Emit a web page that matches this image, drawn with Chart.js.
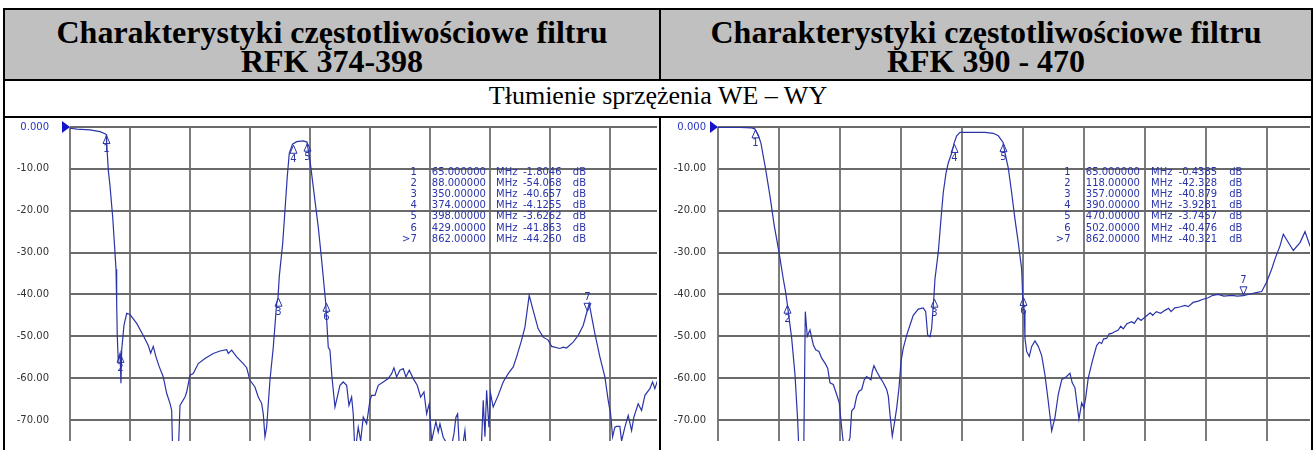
<!DOCTYPE html>
<html>
<head>
<meta charset="utf-8">
<title>Charakterystyki częstotliwościowe filtrów RFK</title>
<script src="https://cdn.jsdelivr.net/npm/chart.js"></script>
<style>
  body { margin: 0; background: #fff; width: 1315px; height: 450px; overflow: hidden; position: relative; font-family: "Liberation Serif", "Times New Roman", serif; }
  .bl { position: absolute; background: #000; }
  .head { position: absolute; top: 10px; height: 69px; background: #c0c0c0; text-align: center; font-weight: bold; font-size: 32px; line-height: 29px; padding-top: 8px; box-sizing: border-box; }
  .sub { position: absolute; left: 5px; width: 1306px; top: 81px; height: 35px; text-align: center; font-size: 26px; line-height: 30px; }
  .cell { position: absolute; top: 118px; height: 332px; overflow: hidden; }
  .cell canvas { position: absolute; left: 0; top: 0; }
</style>
</head>
<body>
  <div class="head" style="left:5px; width:654px">Charakterystyki częstotliwościowe filtru<br>RFK 374-398</div>
  <div class="head" style="left:661px; width:650px">Charakterystyki częstotliwościowe filtru<br>RFK 390 - 470</div>
  <div class="sub">Tłumienie sprzężenia WE – WY</div>

  <div class="bl" style="left:3px; top:8px; width:1310px; height:2px"></div>
  <div class="bl" style="left:3px; top:79px; width:1310px; height:2px"></div>
  <div class="bl" style="left:3px; top:116px; width:1310px; height:2px"></div>
  <div class="bl" style="left:3px; top:8px; width:2px; height:442px"></div>
  <div class="bl" style="left:659px; top:8px; width:2px; height:73px"></div>
  <div class="bl" style="left:659px; top:116px; width:2px; height:334px"></div>
  <div class="bl" style="left:1311px; top:8px; width:2px; height:442px"></div>

  <div class="cell" style="left:5px; width:652px"><canvas id="leftChart" width="670" height="332"></canvas></div>
  <div class="cell" style="left:661px; width:649px"><canvas id="rightChart" width="672" height="332"></canvas></div>

<script>
// frequency sweep 5 - 1000 MHz, 10 divisions
const freqTicks = [5, 104.5, 204, 303.5, 403, 502.5, 602, 701.5, 801, 900.5, 1000];
const dbTicks = [0, -10, -20, -30, -40, -50, -60, -70];

// RFK 374-398: [MHz, dB]
const leftTrace = [
  [5, -0.3], [16.6, -0.5], [38.2, -0.7], [54.7, -1.1], [63, -1.6], [65, -1.8], [65.8, -3.8], [68.5, -10.3],
  [71.3, -14], [75.8, -21.5], [79.6, -30], [81.3, -34], [82.4, -42], [83.4, -50], [85, -55.7], [88, -54.1],
  [89.5, -61.2], [90.7, -53.3], [94.5, -47.4], [99, -44.5], [104.5, -44.8], [115.6, -46.9], [126.5, -49.8],
  [134.8, -52.2], [138.8, -54], [143.1, -52.4], [147.6, -54.9], [153.1, -57.3], [159.7, -59.7], [165.3, -63.6],
  [170.8, -66], [173.6, -67.7], [175.3, -78], [184.6, -78], [187.4, -66.5], [195.7, -64.5], [198.5, -63.3],
  [204, -59.3], [209.4, -58.9], [217.7, -56.5], [228.8, -55.3], [242.6, -54.1], [253.7, -53.5], [264.8, -53.2],
  [267.5, -54.1], [273.1, -53.3], [281.4, -54.9], [292.3, -56.5], [298, -57.5], [303.4, -60.5], [311.7, -62.1],
  [317.2, -64.5], [322.8, -66], [325.5, -68.5], [328.3, -74], [331.1, -71.7], [336.6, -60.5], [342.1, -52.6],
  [347.7, -42.2], [350, -40.7], [352, -35.8], [357.7, -27.8], [361.5, -19.9], [365.3, -11.9], [368.6, -6.3],
  [374, -4.1], [380.9, -3.5], [391.8, -3.3], [398, -3.6], [402.9, -7.9], [408.4, -14.3], [416.7, -23.9],
  [422.3, -31.8], [429, -41.9], [433.3, -52.6], [436.1, -53.3], [439.4, -59.7], [444.4, -66.9], [452.7, -61.7],
  [458.1, -60.9], [463.8, -61.7], [467.6, -66.5], [472, -64.5], [474.7, -68.5], [477.5, -78], [483, -71.7],
  [487, -75], [491.3, -69.3], [496.9, -70.9], [502.4, -65.3], [505.2, -64.1], [510.7, -64.1], [516.2, -61.7],
  [524.5, -60.9], [532.7, -60.1], [538.4, -58.9], [542.2, -57.5], [546.7, -59.7], [552.1, -58.1], [557.6, -57.7],
  [562.1, -59.7], [567.6, -58.1], [574.2, -60.1], [580.8, -61.7], [586.5, -64.5], [592, -63.3], [596.4, -68.5],
  [600.7, -66.1], [604.7, -75], [608.5, -72.5], [611.8, -70.4], [615.6, -72.9], [618.5, -70.9], [623.9, -74.1],
  [629.6, -75.5], [637.9, -76], [641.7, -73.3], [645, -69.3], [647.8, -68.5], [650.5, -76], [654.4, -78],
  [659.9, -72.5], [662.7, -78], [668.2, -79], [679.3, -79], [687.6, -75], [690.3, -65.3], [693.1, -74],
  [695.9, -62.9], [699.7, -71.7], [702.5, -63.7], [706.8, -66.9], [715.1, -64.1], [723.4, -60.9], [731.7, -58.9],
  [740, -57.3], [745.6, -54.9], [753.9, -50.9], [759.4, -47.8], [766.5, -40.2], [773.1, -43.8], [781.4, -48.2],
  [789.7, -50.2], [798, -50.9], [803.6, -52.4], [817.4, -52.9], [822.9, -52.6], [828.5, -52.8], [839.4, -51.4],
  [847.7, -49.8], [856, -47.4], [862, -44.3], [866, -42.2], [875.5, -49.4], [883.7, -54.9], [892, -59.7],
  [897.5, -65.3], [901.5, -68.5], [904.8, -74], [908.6, -71.7], [911.4, -71.5], [916.9, -71.5], [919.7, -75],
  [925.2, -71.7], [930.7, -68.9], [936.3, -72.5], [940.1, -69.3], [947.2, -66.1], [952.9, -67.7], [958.4, -64.1],
  [966.6, -62.5], [971.1, -60.9], [974.9, -62.5], [980.4, -60.1], [990, -59]
];

// RFK 390 - 470: [MHz, dB]
const rightTrace = [
  [5, -0.1], [40.9, -0.1], [60, -0.2], [65, -0.44], [70.7, -1.9], [75.1, -3.9], [78.9, -7], [82.8, -10.2],
  [89.8, -16.5], [96.8, -23.6], [104.5, -29.9], [111.5, -36.3], [115.4, -39.5], [118, -42.3], [125.2, -50.5],
  [130.6, -59.2], [135, -70.2], [137.1, -78], [144.8, -78], [147.4, -44.1], [150.6, -50], [155, -48.5],
  [160.4, -52], [164.3, -53.2], [169.7, -53.6], [174.1, -55.2], [179.5, -56.4], [183.9, -57.6], [187.7, -61.1],
  [193, -61.5], [198.6, -63.9], [202.8, -65.9], [205.6, -70.2], [208.4, -74.2], [212.1, -78], [220.3, -74.2],
  [223.1, -67.8], [227.3, -67.1], [231.2, -64.3], [235, -63.1], [239.4, -62.7], [243.6, -60.4], [247.5, -59.6],
  [251.3, -60], [254.5, -60.4], [256.7, -58.4], [259.4, -57], [263.8, -58.4], [269.2, -59.8], [274.6, -61.1],
  [280.1, -62.7], [282.8, -64.3], [285.5, -68.6], [289.3, -73.8], [292.5, -71], [296.5, -67.1], [300.2, -62.3],
  [303.5, -56], [307.2, -52.8], [312.8, -49.7], [318.2, -47.3], [323.5, -45], [331.7, -43.5], [339.8, -43.2],
  [343.8, -44.1], [347, -49.7], [350.8, -50.1], [353.5, -48.1], [357, -40.9], [358.9, -36.3], [364.3, -29.9],
  [368.7, -22], [372.4, -15.7], [376.9, -11], [380.6, -8.6], [386.2, -6.2], [390, -3.9], [394.3, -2.1],
  [399.7, -1.3], [407.9, -1.3], [440.5, -1.3], [454, -1.5], [462.2, -2.1], [470, -3.7], [473.1, -6.2],
  [478.5, -9.8], [484, -15.7], [489.4, -22], [494.8, -27.6], [500.3, -33.9], [502, -40.5], [504.6, -44.1],
  [505.7, -50.5], [508.5, -53.6], [512.7, -54.8], [516.7, -52.4], [522, -51.1], [527.4, -52.4], [533, -54.6],
  [538.3, -59.2], [543.7, -65.5], [549.3, -72.6], [554.6, -69.4], [560, -63.9], [565.6, -60.4], [573.7, -59.6],
  [579.1, -58.8], [582.8, -61.1], [587.3, -62.3], [590, -65.5], [593.8, -69.8], [598.2, -65.9], [601.9, -67.1],
  [604.7, -64.7], [608.9, -60], [615.5, -56], [622.6, -52.2], [627, -51.4], [630.8, -51.7], [634, -50.6],
  [638.9, -50.5], [643, -49.4], [647.1, -49.3], [652, -48.9], [657.9, -48.5], [662, -47.6], [666, -48.2],
  [672, -47], [679.7, -46.5], [684, -46.9], [690, -45.6], [695, -46.2], [704.2, -45.1], [710, -44.4],
  [714, -45], [720, -44.1], [727, -44.5], [734, -43.8], [740, -43.3], [744, -44.1], [750, -43.2], [758, -43],
  [766.7, -42.6], [772, -42.9], [780, -41.9], [788.4, -41.6], [795, -41.2], [804.7, -40.8], [812, -40.2],
  [821, -40], [830, -40.4], [842.9, -40.2], [852, -40.4], [862, -40.3], [881, -39.6], [891.9, -39.3],
  [900, -37], [908.2, -33.9], [913.6, -31.5], [921.7, -28.4], [927.1, -25.6], [935.3, -27.6], [943.4, -29.5],
  [954.4, -27.6], [962.5, -25], [970.7, -28.4], [980, -31]
];

const leftMarkerFreq = [65, 88, 350, 374, 398, 429, 862];
const leftMarkerDb = [-1.8046, -54.068, -40.657, -4.1255, -3.6262, -41.863, -44.260];
const rightMarkerFreq = [65, 118, 357, 390, 470, 502, 862];
const rightMarkerDb = [-0.4385, -42.328, -40.879, -3.9281, -3.7457, -40.476, -40.321];

const traceColor = '#2a34a8';

const markerPlugin = {
  id: 'markers',
  afterDatasetsDraw(chart, args, o) {
    const { ctx, chartArea: a, scales: { x, y } } = chart;
    ctx.save();
    // reference level arrow
    const y0 = y.getPixelForValue(0);
    ctx.fillStyle = '#1414c8';
    ctx.beginPath();
    ctx.moveTo(a.left - 8, y0 - 6);
    ctx.lineTo(a.left, y0);
    ctx.lineTo(a.left - 8, y0 + 6);
    ctx.closePath();
    ctx.fill();

    ctx.strokeStyle = traceColor;
    ctx.fillStyle = traceColor;
    ctx.lineWidth = 1;
    ctx.font = '10px "DejaVu Sans"';
    ctx.textAlign = 'center';
    const n = o.freq.length;
    o.freq.forEach((f, i) => {
      const px = Math.round(x.getPixelForValue(f)) + 0.5;
      const py = y.getPixelForValue(o.db[i]);
      const active = i === n - 1;
      const d = active ? -1 : 1;
      const tip = py + d;
      const base = py + d * 9;
      ctx.beginPath();
      ctx.moveTo(px, tip);
      ctx.lineTo(px - 3.5, base);
      ctx.lineTo(px + 3.5, base);
      ctx.closePath();
      ctx.stroke();
      ctx.textBaseline = active ? 'bottom' : 'top';
      ctx.fillText(String(i + 1), px, base + d);
    });

    // marker readout table
    const div = x.getPixelForValue(freqTicks[1]) - x.getPixelForValue(freqTicks[0]);
    ctx.textBaseline = 'middle';
    o.freq.forEach((f, i) => {
      const ty = a.top + 45 + i * 11.2;
      const v = o.db[i];
      ctx.textAlign = 'right';
      ctx.fillText((i === n - 1 ? '>' : '') + (i + 1), a.left + 5.78 * div, ty);
      ctx.textAlign = 'left';
      ctx.fillText(f.toPrecision(8), a.left + 6.03 * div, ty);
      ctx.fillText('MHz', a.left + 7.1 * div, ty);
      ctx.fillText(Math.abs(v) < 10 ? v.toFixed(4) : v.toFixed(3), a.left + 7.55 * div, ty);
      ctx.fillText('dB', a.left + 8.38 * div, ty);
    });
    ctx.restore();
  }
};

function makeChart(id, trace, mFreq, mDb, axisWidth, labelGap) {
  return new Chart(document.getElementById(id), {
    type: 'line',
    data: {
      datasets: [{
        data: trace.map(p => ({ x: p[0], y: p[1] })),
        borderColor: traceColor,
        borderWidth: 1.2,
        pointRadius: 0,
        tension: 0
      }]
    },
    options: {
      responsive: false,
      animation: false,
      devicePixelRatio: 1,
      layout: { padding: { left: 0, top: 9, right: 5, bottom: 9 } },
      plugins: {
        legend: { display: false },
        tooltip: { enabled: false },
        markers: { freq: mFreq, db: mDb }
      },
      scales: {
        x: {
          type: 'linear',
          min: 5,
          max: 1000,
          afterBuildTicks: s => { s.ticks = freqTicks.map(v => ({ value: v })); },
          afterFit: s => { s.height = 0; s.paddingLeft = 0; s.paddingRight = 0; },
          ticks: { display: false },
          grid: { color: '#7c7c7c', lineWidth: 2, drawTicks: false },
          border: { display: false }
        },
        y: {
          min: -75,
          max: 0,
          afterBuildTicks: s => { s.ticks = dbTicks.map(v => ({ value: v })); },
          afterFit: s => { s.width = axisWidth; s.paddingTop = 0; s.paddingBottom = 0; },
          ticks: {
            padding: labelGap,
            font: { family: 'DejaVu Sans', size: 10 },
            color: c => (c.tick && c.tick.value === 0) ? '#2a34c0' : '#333',
            callback: v => v === 0 ? '0.000' : v.toFixed(2)
          },
          grid: { color: '#6a6a6a', lineWidth: 2, drawTicks: false },
          border: { display: false }
        }
      }
    },
    plugins: [markerPlugin]
  });
}

makeChart('leftChart', leftTrace, leftMarkerFreq, leftMarkerDb, 65, 21);
makeChart('rightChart', rightTrace, rightMarkerFreq, rightMarkerDb, 57, 12);
</script>
</body>
</html>
